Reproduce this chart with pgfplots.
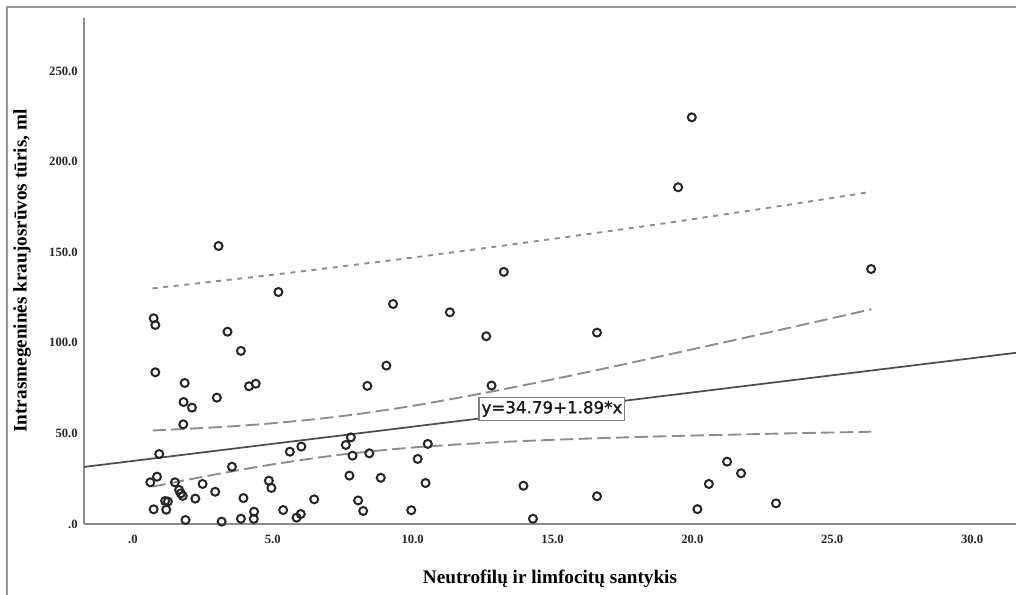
\documentclass[border=0pt]{standalone}
\usepackage{fontspec}
\setmainfont{Liberation Serif}
\newfontfamily\eqfont[FakeBold=1.2]{DejaVu Sans}
\usepackage{pgfplots}
\pgfplotsset{compat=1.18}
\pgfplotstableread{
x y
0.74 113.5
0.80 109.8
3.38 106.1
3.86 95.5
0.80 83.7
1.85 77.8
4.15 76.0
4.39 77.4
3.00 69.7
1.81 67.3
2.11 64.2
1.80 55.0
0.94 38.6
3.54 31.6
0.86 26.1
0.62 23.0
1.50 23.0
2.49 22.1
1.65 18.8
1.71 16.9
1.78 15.5
2.94 17.8
4.86 23.9
4.95 19.9
1.15 12.7
1.25 12.4
2.23 14.0
3.95 14.3
0.74 8.1
1.19 7.9
1.88 2.2
3.17 1.3
3.86 2.9
4.33 6.8
4.32 2.8
3.06 153.4
5.20 128.0
9.30 121.4
11.33 116.8
12.63 103.6
13.26 139.1
8.38 76.2
9.06 87.4
12.82 76.4
7.79 47.8
7.61 43.6
5.61 39.9
6.02 42.7
7.85 37.7
8.45 39.0
10.54 44.2
10.18 35.9
7.74 26.7
8.86 25.5
10.46 22.6
6.48 13.6
8.05 13.0
8.23 7.2
5.37 7.7
6.00 5.5
5.85 3.5
9.95 7.6
13.96 21.1
14.30 2.9
16.59 105.6
16.59 15.3
19.98 224.4
19.49 185.8
26.39 140.7
21.24 34.4
21.74 28.0
20.59 22.1
20.18 8.2
22.99 11.4
}\datatable
\begin{document}
\begin{tikzpicture}
\path[use as bounding box] (0,0) rectangle (762pt,446.25pt);
\draw[black!40, line width=1pt] (5.25pt,-5pt) -- (5.25pt,441pt) -- (770pt,441pt);
\begin{axis}[
  at={(63pt,53.25pt)}, anchor=south west,
  scale only axis, width=699pt, height=379.5pt,
  xmin=-1.75, xmax=31.57, ymin=0, ymax=279.2,
  axis x line=bottom, axis y line=left,
  axis line style={draw=black!45, line width=1.2pt, -},
  major tick length=0pt,
  xtick={0,5,...,30}, xticklabels={.0,5.0,10.0,15.0,20.0,25.0,30.0},
  ytick={0,50,...,250}, yticklabels={.0,50.0,100.0,150.0,200.0,250.0},
  ticklabel style={font=\bfseries\fontsize{9.5}{11}\selectfont, text=black!85},
  xticklabel style={yshift=-4.9pt},
  yticklabel style={xshift=-1.2pt},
  xlabel={Neutrofilų ir limfocitų santykis},
  ylabel={Intrasmegeninės kraujosrūvos tūris, ml},
  label style={font=\bfseries\fontsize{14.4}{17}\selectfont},
  xlabel style={at={(axis description cs:0.5,-0.1087)}, anchor=center},
  ylabel style={at={(axis description cs:-0.0665,0.5)}, anchor=center},
  clip mode=individual,
]
% prediction interval (upper)
\addplot[black!45, line width=1.4pt, dash pattern=on 3.75pt off 4.25pt, smooth] coordinates {
(0.7,130.0) (3,134.0) (5,137.5) (7.4,142.0) (10,147.0) (13,153.1) (16,159.4) (19,165.9) (22,172.8) (24,177.5) (26.4,183.3)};
% mean confidence interval
\addplot[black!45, line width=1.4pt, dash pattern=on 10pt off 4pt, smooth] coordinates {
(0.7,51.6) (3,53.4) (5,55.6) (7.4,59.4) (10,65.2) (13,73.6) (16,83.0) (19,93.0) (22,103.2) (24,110.1) (26.4,118.5)};
\addplot[black!45, line width=1.4pt, dash pattern=on 10pt off 4pt, smooth] coordinates {
(0.7,20.6) (3,27.5) (5,32.9) (7.4,38.2) (10,42.2) (13,45.1) (16,47.0) (19,48.4) (22,49.5) (24,50.2) (26.4,50.9)};
% regression line
\addplot[black!70, line width=1.3pt] coordinates {(-1.75,31.48) (31.57,94.46)};
% data
\addplot[only marks, mark=o, mark size=3pt, mark options={line width=1.5pt, draw=black!85}] table {\datatable};
\node[draw=black!50, fill=white, line width=0.8pt, inner xsep=1.9pt, inner ysep=2pt, minimum height=17.5pt,
  font=\eqfont\fontsize{12.5}{14}\selectfont, text=black!90] at (axis cs:14.98,63.5) {y=34.79+1.89*x};
\end{axis}
\end{tikzpicture}
\end{document}
